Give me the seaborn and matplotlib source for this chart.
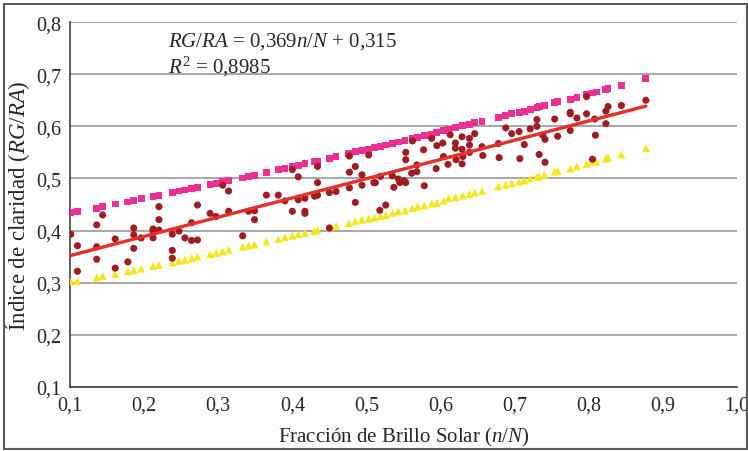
"""
Índice de claridad (RG/RA) frente a fracción de brillo solar (n/N),
con la recta de regresión y las dos curvas de referencia.
"""

import numpy as np
import pandas as pd
import matplotlib
matplotlib.use("Agg")
import matplotlib.pyplot as plt
from matplotlib.patches import Rectangle
from matplotlib.ticker import FuncFormatter
import seaborn as sns

# ----------------------------------------------------------------------
# Datos
# ----------------------------------------------------------------------
# Puntos medidos (n/N, RG/RA)
obs_x = [0.101, 0.110, 0.110, 0.136, 0.136, 0.136, 0.144, 0.161, 0.161, 0.178,
         0.186, 0.186, 0.186, 0.196, 0.212, 0.212, 0.212, 0.220, 0.220, 0.220,
         0.238, 0.238, 0.238, 0.247, 0.255, 0.264, 0.264, 0.272, 0.272, 0.289,
         0.297, 0.306, 0.314, 0.314, 0.333, 0.341, 0.349, 0.349, 0.365, 0.381,
         0.390, 0.400, 0.400, 0.408, 0.408, 0.417, 0.417, 0.417, 0.434, 0.434,
         0.434, 0.430, 0.450, 0.450, 0.459, 0.477, 0.477, 0.477, 0.485, 0.485,
         0.494, 0.494, 0.503, 0.510, 0.512, 0.518, 0.519, 0.526, 0.535, 0.537,
         0.543, 0.545, 0.551, 0.553, 0.553, 0.553, 0.561, 0.562, 0.568, 0.568,
         0.577, 0.578, 0.588, 0.594, 0.595, 0.603, 0.604, 0.610, 0.613, 0.620,
         0.620, 0.621, 0.629, 0.629, 0.630, 0.629, 0.639, 0.639, 0.639, 0.646,
         0.656, 0.657, 0.678, 0.679, 0.688, 0.696, 0.706, 0.707, 0.713, 0.721,
         0.730, 0.730, 0.733, 0.738, 0.741, 0.741, 0.754, 0.758, 0.775, 0.775,
         0.775, 0.784, 0.797, 0.797, 0.805, 0.808, 0.809, 0.823, 0.823, 0.826,
         0.844, 0.877]
obs_y = [0.393, 0.371, 0.322, 0.411, 0.369, 0.345, 0.430, 0.384, 0.328, 0.340,
         0.405, 0.392, 0.366, 0.386, 0.403, 0.399, 0.386, 0.446, 0.421, 0.401,
         0.393, 0.362, 0.347, 0.399, 0.386, 0.415, 0.381, 0.382, 0.449, 0.433,
         0.427, 0.487, 0.476, 0.437, 0.390, 0.437, 0.438, 0.421, 0.468, 0.468,
         0.457, 0.517, 0.437, 0.503, 0.459, 0.462, 0.437, 0.433, 0.523, 0.492,
         0.468, 0.466, 0.405, 0.473, 0.475, 0.512, 0.543, 0.482, 0.523, 0.454,
         0.507, 0.487, 0.545, 0.492, 0.492, 0.439, 0.504, 0.449, 0.505, 0.483,
         0.499, 0.492, 0.496, 0.492, 0.550, 0.536, 0.510, 0.572, 0.526, 0.513,
         0.555, 0.486, 0.577, 0.519, 0.563, 0.568, 0.542, 0.527, 0.584, 0.568,
         0.558, 0.536, 0.580, 0.556, 0.542, 0.528, 0.577, 0.564, 0.550, 0.586,
         0.561, 0.544, 0.567, 0.540, 0.597, 0.586, 0.590, 0.538, 0.565, 0.595,
         0.613, 0.600, 0.546, 0.583, 0.575, 0.531, 0.614, 0.581, 0.627, 0.624,
         0.592, 0.616, 0.657, 0.624, 0.537, 0.614, 0.583, 0.629, 0.605, 0.638,
         0.640, 0.650]

# Curvas de referencia (cuadrados rosas arriba, triángulos amarillos abajo)
ref_x = [0.101, 0.110, 0.136, 0.144, 0.161, 0.178, 0.186, 0.196, 0.212, 0.220,
         0.238, 0.247, 0.255, 0.264, 0.272, 0.289, 0.297, 0.306, 0.314, 0.333,
         0.341, 0.349, 0.365, 0.381, 0.390, 0.400, 0.408, 0.417, 0.430, 0.434,
         0.450, 0.459, 0.476, 0.485, 0.494, 0.503, 0.511, 0.519, 0.526, 0.535,
         0.543, 0.552, 0.562, 0.569, 0.578, 0.588, 0.595, 0.604, 0.611, 0.620,
         0.630, 0.639, 0.646, 0.656, 0.678, 0.688, 0.696, 0.706, 0.713, 0.721,
         0.730, 0.733, 0.740, 0.754, 0.758, 0.775, 0.784, 0.797, 0.805, 0.810,
         0.823, 0.826, 0.844, 0.877]
upper_y = [0.435, 0.437, 0.443, 0.446, 0.451, 0.455, 0.458, 0.461, 0.465, 0.468,
           0.473, 0.476, 0.478, 0.481, 0.483, 0.488, 0.491, 0.494, 0.496, 0.501,
           0.503, 0.505, 0.512, 0.517, 0.519, 0.523, 0.525, 0.528, 0.532, 0.533,
           0.539, 0.542, 0.548, 0.551, 0.554, 0.556, 0.559, 0.562, 0.564, 0.567,
           0.570, 0.573, 0.576, 0.579, 0.582, 0.585, 0.588, 0.592, 0.595, 0.598,
           0.601, 0.604, 0.607, 0.610, 0.617, 0.620, 0.624, 0.627, 0.629, 0.633,
           0.636, 0.638, 0.640, 0.645, 0.647, 0.652, 0.656, 0.662, 0.664, 0.666,
           0.670, 0.672, 0.679, 0.692]
lower_y = [0.302, 0.303, 0.310, 0.313, 0.317, 0.322, 0.324, 0.327, 0.332, 0.334,
           0.339, 0.342, 0.344, 0.347, 0.350, 0.355, 0.357, 0.360, 0.363, 0.369,
           0.371, 0.373, 0.379, 0.384, 0.387, 0.390, 0.393, 0.395, 0.399, 0.401,
           0.406, 0.409, 0.414, 0.418, 0.421, 0.423, 0.425, 0.428, 0.430, 0.434,
           0.437, 0.439, 0.443, 0.446, 0.448, 0.452, 0.453, 0.457, 0.462, 0.464,
           0.467, 0.470, 0.473, 0.476, 0.485, 0.488, 0.491, 0.494, 0.496, 0.500,
           0.503, 0.504, 0.507, 0.513, 0.514, 0.519, 0.523, 0.528, 0.532, 0.532,
           0.538, 0.540, 0.546, 0.558]

# Ecuación de la regresión tal como aparece en el gráfico
slope, intercept = 0.369, 0.315

x_ticks = [0.1, 0.2, 0.3, 0.4, 0.5, 0.6, 0.7, 0.8, 0.9, 1.0]
y_ticks = [0.1, 0.2, 0.3, 0.4, 0.5, 0.6, 0.7, 0.8]

# Colores
DOT = "#9e1c22"
PINK = "#ec3093"
YELLOW = "#f5e61a"
RED = "#e8302a"
BLUE = "#4a74c4"

# ----------------------------------------------------------------------
# Estilo
# ----------------------------------------------------------------------
sns.set_style("white")
plt.rcParams["font.family"] = ["Liberation Serif", "DejaVu Serif"]
plt.rcParams["mathtext.fontset"] = "custom"
plt.rcParams["mathtext.rm"] = "Liberation Serif"
plt.rcParams["mathtext.it"] = "Liberation Serif:italic"

obs = pd.DataFrame({"x": obs_x, "y": obs_y})
ref = pd.DataFrame({"x": ref_x, "upper": upper_y, "lower": lower_y})

fig = plt.figure(figsize=(7.48, 4.52), dpi=100)
ax = fig.add_axes([0.0936, 0.1416, 0.8917, 0.8074])

# Curvas de referencia
sns.scatterplot(data=ref, x="x", y="upper", ax=ax, marker="s", s=24,
                color=PINK, edgecolor="none", zorder=3)
sns.scatterplot(data=ref, x="x", y="lower", ax=ax, marker="^", s=32,
                color=YELLOW, edgecolor="none", zorder=3)

# Observaciones
sns.scatterplot(data=obs, x="x", y="y", ax=ax, marker="o", s=26,
                color=DOT, edgecolor="none", zorder=4)

# Ajuste (azul, debajo) y recta de la ecuación (roja, encima)
sns.regplot(data=obs, x="x", y="y", ax=ax, scatter=False, ci=None,
            line_kws={"color": BLUE, "lw": 1.6, "zorder": 5})
fit_x = np.array([min(obs_x), max(obs_x)])
sns.lineplot(x=fit_x, y=slope * fit_x + intercept, ax=ax, color=RED,
             lw=2.4, zorder=6)

# Ejes
ax.set_xlim(0.1, 1.0)
ax.set_ylim(0.1, 0.8)
ax.set_xticks(x_ticks)
ax.set_yticks(y_ticks)
comma = FuncFormatter(lambda v, _: f"{v:.1f}".replace(".", ","))
ax.xaxis.set_major_formatter(comma)
ax.yaxis.set_major_formatter(comma)
ax.tick_params(axis="both", direction="out", length=4, width=1,
               color="#404040", labelsize=14.5, pad=2)

ax.yaxis.grid(True, color="#a0a0a0", lw=1.3)
ax.set_axisbelow(True)
for side in ["top", "right"]:
    ax.spines[side].set_visible(False)
for side in ["left", "bottom"]:
    ax.spines[side].set_color("#404040")
    ax.spines[side].set_linewidth(1.2)

ax.set_xlabel(r"Fracción de Brillo Solar ($\mathit{n/N}$)", fontsize=15,
              labelpad=8)
ax.set_ylabel(r"Índice de claridad ($\mathit{RG/RA}$)", fontsize=16.5,
              labelpad=3)

ax.text(0.232, 0.764, r"$\mathit{RG/RA}$ = 0,369$\mathit{n/N}$ + 0,315",
        fontsize=15, va="center", ha="left")
ax.text(0.232, 0.716, r"$\mathit{R}^{2}$ = 0,8985",
        fontsize=15, va="center", ha="left")

# Marco exterior de la figura
fig.patches.append(Rectangle((0.005, 0.004), 0.994, 0.984,
                             transform=fig.transFigure, fill=False,
                             edgecolor="#5a5a5a", lw=1.5))

fig.savefig("out.png", dpi=100)
